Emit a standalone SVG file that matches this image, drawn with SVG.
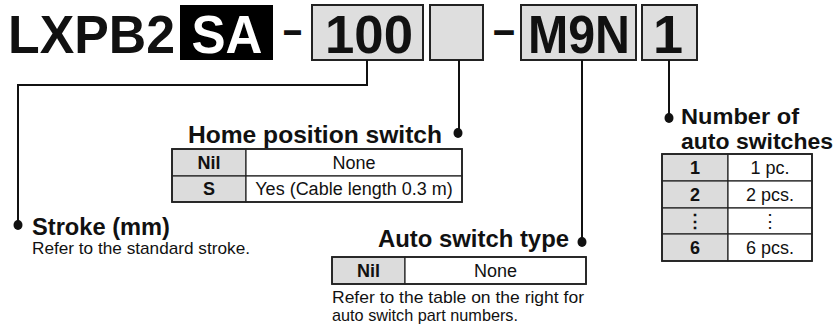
<svg xmlns="http://www.w3.org/2000/svg" width="838" height="333" viewBox="0 0 838 333">
<style>
text{font-family:"Liberation Sans",Arial,Helvetica,sans-serif;fill:#111}
.code{font-size:54px;font-weight:bold}
.dash{font-size:48px;font-weight:bold}
.box{fill:#dedede;stroke:#222;stroke-width:2}
.h{font-size:24px;font-weight:bold}
.h2{font-size:22.5px;font-weight:bold}
.d{font-size:16.6px}
.tk{font-size:18px;font-weight:bold;text-anchor:middle}
.tv{font-size:18px;text-anchor:middle}
.cell{fill:#fff;stroke:#222;stroke-width:1.2}
.kcell{fill:#dcdcdc;stroke:#222;stroke-width:1.2}
.outer{fill:none;stroke:#222;stroke-width:1.8}
.ln{fill:none;stroke:#111;stroke-width:2}
.dot{fill:#111}
</style>
<g id="code">
<text class="code" x="8" y="53" textLength="167" lengthAdjust="spacingAndGlyphs">LXPB2</text>
<rect x="180" y="5" width="93" height="55" fill="#000"/>
<text class="code" x="227" y="53" text-anchor="middle" textLength="71" lengthAdjust="spacingAndGlyphs" style="fill:#fff">SA</text>
<text class="dash" x="283" y="46" textLength="19" lengthAdjust="spacingAndGlyphs">–</text>
<rect class="box" x="312" y="5" width="111" height="55"/>
<text class="code" x="369" y="53" text-anchor="middle" textLength="88" lengthAdjust="spacingAndGlyphs">100</text>
<rect class="box" x="430" y="5" width="53" height="55"/>
<text class="dash" x="493" y="46" textLength="22" lengthAdjust="spacingAndGlyphs">–</text>
<rect class="box" x="521" y="5" width="115" height="55"/>
<text class="code" x="579" y="53" text-anchor="middle" textLength="102" lengthAdjust="spacingAndGlyphs">M9N</text>
<rect class="box" x="642" y="5" width="55" height="55"/>
<text class="code" x="668" y="53" text-anchor="middle">1</text>
</g>
<g id="connectors">
<polyline class="ln" points="367,60 367,85 18,85 18,225"/>
<line class="ln" x1="459" y1="60" x2="459" y2="133"/>
<line class="ln" x1="582" y1="60" x2="582" y2="242"/>
<line class="ln" x1="669" y1="60" x2="669" y2="118"/>
<ellipse class="dot" cx="18" cy="225" rx="4.5" ry="5"/>
<ellipse class="dot" cx="458" cy="133" rx="4.5" ry="5"/>
<ellipse class="dot" cx="582" cy="242" rx="4.5" ry="5"/>
<ellipse class="dot" cx="669" cy="118" rx="4.5" ry="5"/>
</g>
<g id="stroke">
<text class="h" x="32" y="235" textLength="138" lengthAdjust="spacingAndGlyphs">Stroke (mm)</text>
<text class="d" x="32" y="254" textLength="218" lengthAdjust="spacingAndGlyphs">Refer to the standard stroke.</text>
</g>
<g id="home-position-switch">
<text class="h" x="188" y="143" textLength="254" lengthAdjust="spacingAndGlyphs">Home position switch</text>
<rect class="kcell" x="172" y="149" width="74" height="27"/>
<rect class="cell" x="246" y="149" width="216" height="27"/>
<rect class="kcell" x="172" y="176" width="74" height="26"/>
<rect class="cell" x="246" y="176" width="216" height="26"/>
<rect class="outer" x="172" y="149" width="290" height="53"/>
<text class="tk" x="209" y="169">Nil</text>
<text class="tv" x="354" y="169">None</text>
<text class="tk" x="209" y="195">S</text>
<text class="tv" x="354" y="195">Yes (Cable length 0.3 m)</text>
</g>
<g id="auto-switch-type">
<text class="h" x="378" y="247" textLength="191" lengthAdjust="spacingAndGlyphs">Auto switch type</text>
<rect class="kcell" x="332" y="257" width="73" height="27"/>
<rect class="cell" x="405" y="257" width="181" height="27"/>
<rect class="outer" x="332" y="257" width="254" height="27"/>
<text class="tk" x="368.5" y="277">Nil</text>
<text class="tv" x="495.5" y="277">None</text>
<text class="d" x="332" y="303" textLength="252" lengthAdjust="spacingAndGlyphs">Refer to the table on the right for</text>
<text class="d" x="332" y="321" textLength="186" lengthAdjust="spacingAndGlyphs">auto switch part numbers.</text>
</g>
<g id="number-of-auto-switches">
<text class="h2" x="681" y="124" textLength="118" lengthAdjust="spacingAndGlyphs">Number of</text>
<text class="h2" x="681" y="149" textLength="152" lengthAdjust="spacingAndGlyphs">auto switches</text>
<rect class="kcell" x="662" y="154" width="66" height="27"/>
<rect class="cell" x="728" y="154" width="84" height="27"/>
<rect class="kcell" x="662" y="181" width="66" height="27"/>
<rect class="cell" x="728" y="181" width="84" height="27"/>
<rect class="kcell" x="662" y="208" width="66" height="26"/>
<rect class="cell" x="728" y="208" width="84" height="26"/>
<rect class="kcell" x="662" y="234" width="66" height="27"/>
<rect class="cell" x="728" y="234" width="84" height="27"/>
<rect class="outer" x="662" y="154" width="150" height="107"/>
<text class="tk" x="695" y="174">1</text>
<text class="tv" x="770" y="174">1 pc.</text>
<text class="tk" x="695" y="201">2</text>
<text class="tv" x="770" y="201">2 pcs.</text>
<text class="tk" x="695" y="227">⋮</text>
<text class="tv" x="770" y="227">⋮</text>
<text class="tk" x="695" y="254">6</text>
<text class="tv" x="770" y="254">6 pcs.</text>
</g>
</svg>
